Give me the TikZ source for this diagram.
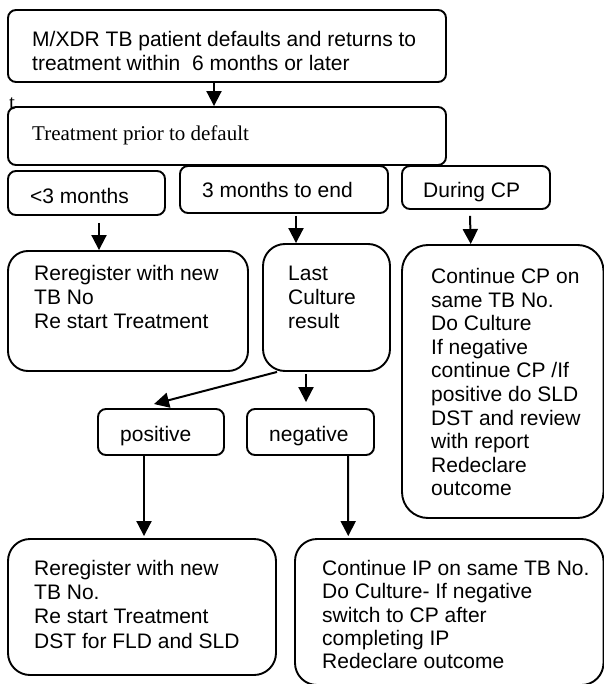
\documentclass[tikz,border=0pt]{standalone}
\usepackage{fontspec}
\setmainfont{Liberation Sans}
\newfontfamily\seriffont{Liberation Serif}
\usetikzlibrary{arrows.meta}

\tikzset{
  box/.style={draw, line width=1.9pt, rounded corners=#1, inner sep=0pt},
  box/.default=8pt,
  txt/.style={anchor=north west, inner sep=0pt, align=left,
              font=\fontsize{21}{23.6}\selectfont},
  arr/.style={line width=2pt, -{Triangle[length=15pt,width=15pt]}},
}

% \flowbox{name}{x1}{y1}{x2}{y2}{corner radius}
\newcommand\flowbox[6]{%
  \node[box=#6, minimum width={(#4-#2)*1pt}, minimum height={(#5-#3)*1pt}]
    (#1) at ({(#2+#4)/2},{(#3+#5)/2}) {};}

\begin{document}
\begin{tikzpicture}[x=1pt, y=-1pt]
\useasboundingbox (0,0) rectangle (603,684);

% boxes
\flowbox{start}{8}{10}{446}{82}{8pt}
\flowbox{prior}{8}{107}{446}{165}{8pt}
\flowbox{lt3}{8}{171}{165}{215}{8pt}
\flowbox{mid}{180}{166}{388}{213}{8pt}
\flowbox{cp}{402}{166}{550}{209}{8pt}
\flowbox{rereg}{8}{251}{248}{371}{20pt}
\flowbox{last}{263}{244}{390}{371}{22pt}
\flowbox{cont}{402}{245}{603.5}{518}{26pt}
\flowbox{pos}{98}{409}{224}{455}{8pt}
\flowbox{neg}{247}{409}{374}{455}{8pt}
\flowbox{reregdst}{8}{539}{276}{675}{22pt}
\flowbox{ip}{295}{539}{603.5}{685}{22pt}

% texts
\node[txt] (tstart) at (32,31) {M/XDR TB patient defaults and returns to\\treatment within\ \ 6 months or later};
\node[txt, font=\seriffont\fontsize{21}{24}\selectfont] (tprior) at (32,126) {Treatment prior to default};
\node[txt, font=\seriffont\fontsize{21}{24}\selectfont] (tstray) at (9,97) {t};
\node[txt] (tlt3) at (30,188) {<3 months};
\node[txt] (tmid) at (202,182) {3 months to end};
\node[txt] (tcp) at (423,182) {During CP};
\node[txt, font=\fontsize{21}{24}\selectfont] (trereg) at (34,265) {Reregister with new\\TB No\\Re start Treatment};
\node[txt, font=\fontsize{21}{24}\selectfont] (tlast) at (288,266) {Last\\Culture\\result};
\node[txt] (tcont) at (431,268) {Continue CP on\\same TB No.\\Do Culture\\If negative\\continue CP /If\\positive do SLD\\DST and review\\with report\\Redeclare\\outcome};
\node[txt] (tpos) at (120,426) {positive};
\node[txt] (tneg) at (269,426) {negative};
\node[txt, font=\fontsize{21}{24.2}\selectfont] (treregdst) at (34,560) {Reregister with new\\TB No.\\Re start Treatment\\DST for FLD and SLD};
\node[txt, font=\fontsize{21}{23.3}\selectfont] (tip) at (322,560) {Continue IP on same TB No.\\Do Culture- If negative\\switch to CP after\\completing IP\\Redeclare outcome};

% connectors
\draw[arr] ([xshift=-13pt]start.south) -- ([xshift=-13pt]prior.north);
\draw[arr] ([xshift=12.5pt,yshift=-7pt]lt3.south) -- ([xshift=-29pt]rereg.north);
\draw[arr] ([xshift=12pt,yshift=-2pt]mid.south) -- ([xshift=-30.5pt]last.north);
\draw[arr] ([xshift=-6pt,yshift=-6pt]cp.south) -- ([xshift=-32pt]cont.north);
\draw[arr] ([xshift=-49.5pt]last.south) -- ([xshift=-7pt,yshift=4pt]pos.north);
\draw[arr] ([xshift=-20.5pt,yshift=-2pt]last.south) -- ([xshift=-4.5pt,yshift=6pt]neg.north);
\draw[arr] ([xshift=-17pt]pos.south) -- ([xshift=2pt,yshift=2pt]reregdst.north);
\draw[arr] ([xshift=37.5pt]neg.south) -- ([xshift=-101pt,yshift=2pt]ip.north);
\end{tikzpicture}
\end{document}
